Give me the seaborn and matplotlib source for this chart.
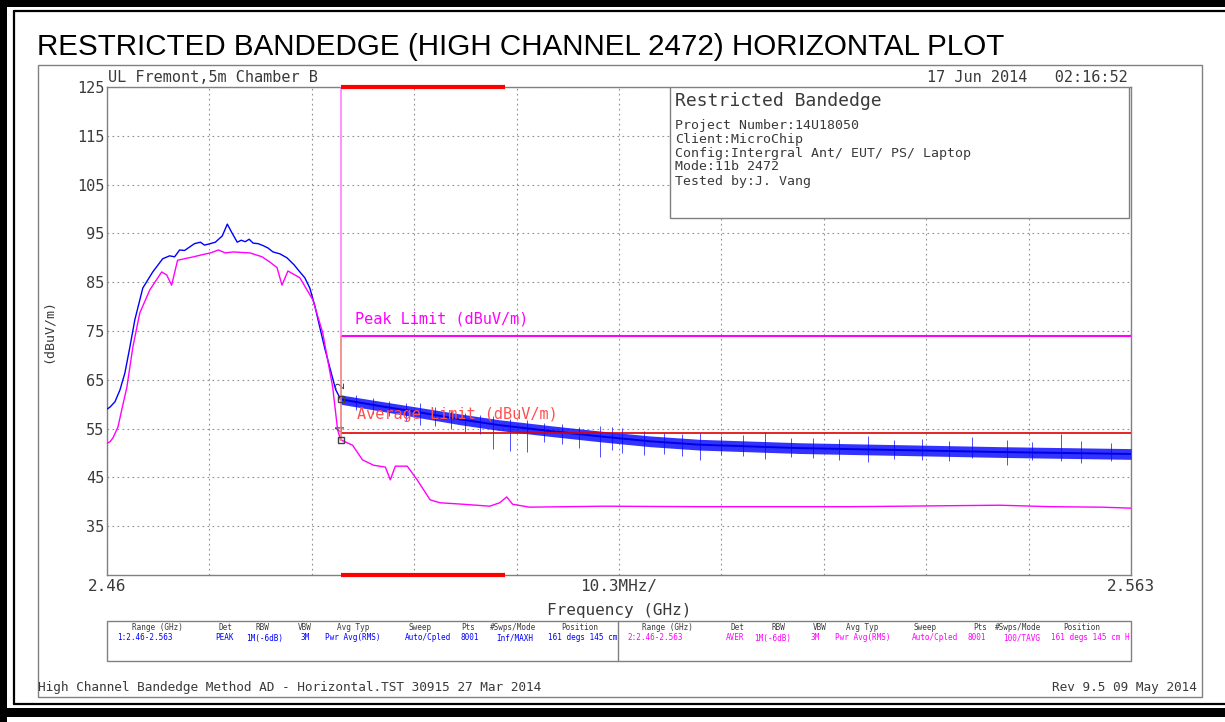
import matplotlib
matplotlib.use("Agg")
import matplotlib.pyplot as plt
import pandas as pd
import seaborn as sns
from matplotlib.patches import Rectangle
from matplotlib.lines import Line2D

# peak (max hold) trace
peak_freq = [2.4600, 2.4603, 2.4608, 2.4613, 2.4618, 2.4623, 2.4628, 2.4636, 2.4646,
             2.4656, 2.4663, 2.4668, 2.4673, 2.4678, 2.4683, 2.4688, 2.4694, 2.4698,
             2.4702, 2.4709, 2.4716, 2.4721, 2.4726, 2.4731, 2.4735, 2.4739, 2.4743,
             2.4747, 2.4752, 2.4757, 2.4762, 2.4767, 2.4774, 2.4781, 2.4788, 2.4794,
             2.4799, 2.4804, 2.4809, 2.4814, 2.4819, 2.4824, 2.4830, 2.4835]
peak_level = [59.0, 59.4, 60.5, 62.9, 66.4, 71.7, 77.3, 83.8, 87.1,
              89.8, 90.4, 90.2, 91.6, 91.5, 92.2, 92.9, 93.2, 92.6,
              92.8, 93.2, 94.5, 96.9, 95.0, 93.2, 93.6, 93.3, 93.8,
              93.0, 92.9, 92.5, 92.0, 91.2, 90.8, 90.0, 88.6, 87.1,
              85.9, 83.8, 80.2, 75.8, 71.5, 67.6, 63.0, 61.0]

# noisy band above the band edge: middle, top and bottom of the blue band
band_freq = [2.4835, 2.4875, 2.4915, 2.4955, 2.4995, 2.5046, 2.5096, 2.5146, 2.5196,
             2.5297, 2.5398, 2.5498, 2.5630]
band_mid = [61.0, 59.6, 58.3, 56.9, 55.7, 54.5, 53.4, 52.4, 51.7, 51.0, 50.6, 50.2, 49.8]
band_hi = [61.9, 60.6, 59.3, 58.0, 56.8, 55.6, 54.5, 53.5, 52.8, 52.1, 51.7, 51.3, 50.9]
band_lo = [60.0, 58.6, 57.2, 55.8, 54.6, 53.4, 52.3, 51.3, 50.6, 49.9, 49.5, 49.1, 48.7]
spike_freq = [2.4850, 2.4868, 2.4884, 2.4901, 2.4915, 2.4930, 2.4946, 2.4960, 2.4975,
              2.4988, 2.5005, 2.5022, 2.5040, 2.5058, 2.5075, 2.5096, 2.5108, 2.5118,
              2.5140, 2.5160, 2.5178, 2.5196, 2.5218, 2.5240, 2.5262, 2.5288, 2.5310,
              2.5336, 2.5365, 2.5392, 2.5420, 2.5447, 2.5470, 2.5505, 2.5530, 2.5560,
              2.5580, 2.5610]
spike_top = [61.8, 61.2, 60.6, 60.2, 60.2, 59.4, 58.6, 58.2, 57.8,
             57.6, 57.0, 56.8, 56.2, 55.9, 55.4, 55.6, 55.3, 55.2,
             54.6, 54.2, 53.8, 54.0, 53.4, 53.6, 54.3, 53.0, 53.0,
             52.8, 53.4, 52.6, 52.8, 52.5, 53.2, 52.6, 52.2, 53.8,
             52.4, 52.0]
spike_bottom = [58.8, 58.0, 57.5, 56.6, 55.7, 55.6, 55.0, 54.4, 53.8,
                50.8, 50.4, 50.2, 52.2, 51.8, 51.0, 49.2, 50.6, 50.0,
                49.6, 49.8, 49.4, 48.6, 49.6, 49.4, 48.8, 49.2, 49.0,
                48.6, 48.2, 48.7, 48.6, 48.3, 48.9, 47.6, 48.6, 48.4,
                48.0, 48.3]

# average trace
avg_freq = [2.4600, 2.4603, 2.4606, 2.4611, 2.4615, 2.4620, 2.4626, 2.4633, 2.4643,
            2.4655, 2.4660, 2.4665, 2.4671, 2.4680, 2.4687, 2.4695, 2.4704, 2.4712,
            2.4719, 2.4727, 2.4735, 2.4744, 2.4756, 2.4764, 2.4771, 2.4776, 2.4782,
            2.4794, 2.4807, 2.4817, 2.4827, 2.4832, 2.4835, 2.4847, 2.4857, 2.4868,
            2.4880, 2.4885, 2.4890, 2.4902, 2.4912, 2.4925, 2.4935, 2.4958, 2.4985,
            2.4995, 2.5002, 2.5008, 2.5025, 2.5100, 2.5196, 2.5280, 2.5347, 2.5400,
            2.5448, 2.5498, 2.5549, 2.5600, 2.5630]
avg_level = [52.0, 52.3, 53.1, 55.3, 59.0, 63.5, 71.7, 78.7, 83.4,
             87.1, 86.5, 84.4, 89.5, 89.9, 90.2, 90.6, 91.0, 91.6,
             91.0, 91.2, 91.1, 91.0, 90.2, 89.1, 88.0, 84.4, 87.3,
             85.9, 81.4, 74.6, 63.5, 54.7, 52.7, 51.6, 48.6, 47.5,
             47.1, 44.5, 47.3, 47.3, 44.5, 40.4, 39.8, 39.5, 39.1,
             39.8, 41.0, 39.5, 38.9, 39.1, 39.0, 39.0, 39.0, 39.1,
             39.2, 39.3, 39.0, 38.9, 38.7]

band_edge = 2.4835
restricted_end = 2.5
peak_limit = 74
avg_limit = 54

x_ticks = [2.46 + 0.0103 * i for i in range(11)]
x_labels = ["2.46", "", "", "", "", "10.3MHz/", "", "", "", "", "2.563"]
y_ticks = list(range(35, 126, 10))

info_lines = ["Project Number:14U18050", "Client:MicroChip",
              "Config:Intergral Ant/ EUT/ PS/ Laptop", "Mode:11b 2472", "Tested by:J. Vang"]
table_head = ["Range (GHz)", "Det", "RBW", "VBW", "Avg Typ", "Sweep", "Pts", "#Swps/Mode", "Position"]
table_peak = ["1:2.46-2.563", "PEAK", "1M(-6dB)", "3M", "Pwr Avg(RMS)", "Auto/Cpled", "8001",
              "Inf/MAXH", "161 degs 145 cm"]
table_avg = ["2:2.46-2.563", "AVER", "1M(-6dB)", "3M", "Pwr Avg(RMS)", "Auto/Cpled", "8001",
             "100/TAVG", "161 degs 145 cm H"]

W, H = 1225, 722
BLUE = "#0000ff"
MAGENTA = "#ff00ff"
GREY = "#808080"
TXT = "#3a3a3a"


def px(x, y):
    return x / W, 1 - y / H


sns.set_theme(style="white")
plt.rcParams["font.family"] = ["DejaVu Sans Mono"]

fig = plt.figure(figsize=(W / 100, H / 100), dpi=100)

# outer double black frame
fig.add_artist(Rectangle((0, 1 - 7 / H), 1, 7 / H, transform=fig.transFigure, color="black", lw=0))
fig.add_artist(Rectangle((0, 0), 7 / W, 1, transform=fig.transFigure, color="black", lw=0))
fig.add_artist(Rectangle((0, 1 - 717 / H), 1, 9 / H, transform=fig.transFigure, color="black", lw=0))
fig.add_artist(Line2D([13.5 / W, 1], [1 - 10.5 / H] * 2, transform=fig.transFigure, color="black", lw=1.6))
fig.add_artist(Line2D([13.5 / W] * 2, [1 - 10.5 / H, 1 - 704 / H], transform=fig.transFigure,
                      color="black", lw=1.6))
fig.add_artist(Line2D([13.5 / W, 1], [1 - 704 / H] * 2, transform=fig.transFigure, color="black", lw=1.6))
# inner grey frame
fig.add_artist(Rectangle(px(38, 697), (1202 - 38) / W, (697 - 65) / H, transform=fig.transFigure,
                         fill=False, edgecolor=GREY, lw=1))

fig.text(*px(37, 47), "RESTRICTED BANDEDGE (HIGH CHANNEL 2472) HORIZONTAL PLOT",
         family="Liberation Sans", fontsize=21.3, va="center", ha="left", color="black")

ax = fig.add_axes([107 / W, 1 - 575 / H, 1024 / W, 488 / H])

peak_df = pd.DataFrame({"freq": peak_freq, "level": peak_level})
band_df = pd.DataFrame({"freq": band_freq, "level": band_mid})
avg_df = pd.DataFrame({"freq": avg_freq, "level": avg_level})

ax.vlines(spike_freq, spike_bottom, spike_top, color="#3030ff", lw=0.7, alpha=0.85, zorder=3)
ax.fill_between(band_freq, band_lo, band_hi, color=BLUE, alpha=0.8, lw=0, zorder=3)
sns.lineplot(data=peak_df, x="freq", y="level", color=BLUE, lw=1.0, ax=ax, zorder=3)
sns.lineplot(data=band_df, x="freq", y="level", color="#0000e6", lw=1.4, ax=ax, zorder=3)
sns.lineplot(data=avg_df, x="freq", y="level", color=MAGENTA, lw=1.0, ax=ax, zorder=4)

# limits and band edge
ax.hlines(peak_limit, band_edge, 2.563, color=MAGENTA, lw=1.5, zorder=4)
ax.hlines(avg_limit, band_edge, 2.563, color="#e00000", lw=1.2, zorder=4)
ax.vlines(band_edge, peak_limit, 125, color="#ff80ff", lw=1.2, zorder=4)
ax.vlines(band_edge, avg_limit - 1.5, peak_limit, color="#f08080", lw=1.2, zorder=4)
ax.hlines([125, 25], band_edge, restricted_end, color="#ff0000", lw=3, zorder=6, clip_on=False)
ax.text(2.4849, 77.5, "Peak Limit (dBuV/m)", color=MAGENTA, fontsize=11, va="center")
ax.text(2.4851, 57.8, "Average Limit (dBuV/m)", color="#ff5050", fontsize=11, va="center", zorder=5)

# markers at the band edge
ax.plot([band_edge, band_edge], [61.0, 52.7], "s", ms=5, mfc="none", mec="#404040", mew=1, zorder=6)
ax.text(band_edge, 63.8, "2", rotation=90, fontsize=9, color="#404040", ha="center", va="center")
ax.text(band_edge, 55.0, "4", rotation=90, fontsize=9, color="#404040", ha="center", va="center")

ax.set_xlim(2.46, 2.563)
ax.set_ylim(25, 125)
ax.set_xticks(x_ticks)
ax.set_xticklabels(x_labels)
ax.set_yticks(y_ticks)
ax.tick_params(length=0, labelsize=11.5, colors=TXT, pad=3)
ax.tick_params(axis="y", labelsize=11, pad=2)
ax.grid(True, color="#909090", ls=(0, (1.5, 3)), lw=0.8)
for s in ax.spines.values():
    s.set_color(GREY)
    s.set_linewidth(1)
ax.set_xlabel("Frequency (GHz)", fontsize=11.5, color=TXT, labelpad=6)
ax.set_ylabel("(dBuV/m)", fontsize=9.5, color=TXT, labelpad=16)

ax.text(0.001, 1.004, "UL Fremont,5m Chamber B", transform=ax.transAxes, fontsize=11,
        color=TXT, va="bottom", ha="left")
ax.text(0.997, 1.004, "17 Jun 2014   02:16:52", transform=ax.transAxes, fontsize=11,
        color=TXT, va="bottom", ha="right")

# info box
ax.add_patch(Rectangle(((670 - 107) / 1024, (575 - 218) / 488), (1129 - 670) / 1024, (218 - 87) / 488,
                       transform=ax.transAxes, facecolor="white", edgecolor=GREY, lw=1, zorder=7))
fig.text(*px(675, 101), "Restricted Bandedge", fontsize=13, color=TXT, va="center", zorder=8)
for i, line in enumerate(info_lines):
    fig.text(*px(675, 125 + 14 * i), line, fontsize=9.5, color=TXT, va="center", zorder=8)

# settings table
fig.add_artist(Rectangle(px(107, 661), (1131 - 107) / W, 40 / H, transform=fig.transFigure,
                         fill=False, edgecolor=GREY, lw=1))
fig.add_artist(Line2D([618 / W] * 2, [1 - 621 / H, 1 - 661 / H], transform=fig.transFigure,
                      color=GREY, lw=1))
head_x_left = [157, 225, 262, 305, 353, 420, 468, 513, 580]
val_x_left = [145, 225, 265, 305, 353, 428, 470, 515, 583]
head_x_right = [667, 737, 778, 820, 862, 925, 980, 1018, 1082]
val_x_right = [655, 735, 773, 815, 863, 935, 977, 1022, 1090]
for h, v, hx, vx in zip(table_head, table_peak, head_x_left, val_x_left):
    fig.text(*px(hx, 627), h, fontsize=5.5, color=TXT, ha="center", va="center")
    fig.text(*px(vx, 638), v, fontsize=5.5, color=BLUE, ha="center", va="center")
for h, v, hx, vx in zip(table_head, table_avg, head_x_right, val_x_right):
    fig.text(*px(hx, 627), h, fontsize=5.5, color=TXT, ha="center", va="center")
    fig.text(*px(vx, 638), v, fontsize=5.5, color=MAGENTA, ha="center", va="center")

fig.text(*px(38, 688), "High Channel Bandedge Method AD - Horizontal.TST 30915 27 Mar 2014",
         fontsize=9.2, color=TXT, va="center", ha="left")
fig.text(*px(1197, 688), "Rev 9.5 09 May 2014", fontsize=9.2, color=TXT, va="center", ha="right")

fig.savefig("out.png", dpi=100)
